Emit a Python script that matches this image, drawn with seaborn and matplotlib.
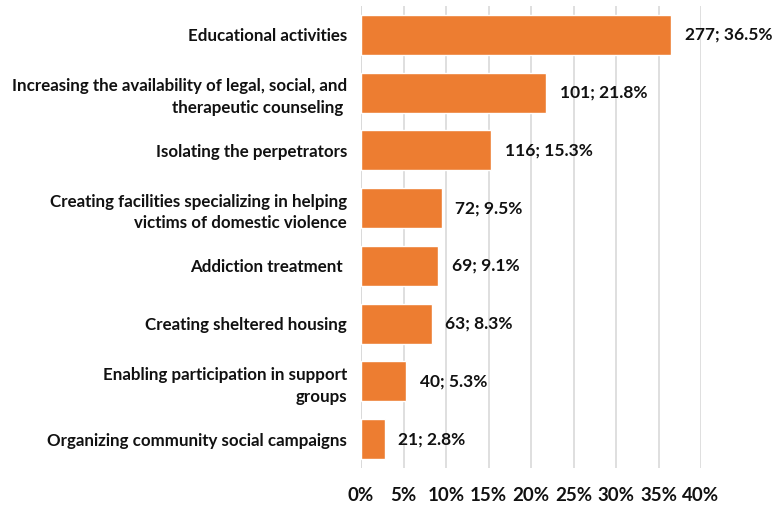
import matplotlib
matplotlib.use("Agg")
import matplotlib.pyplot as plt
import seaborn as sns
import pandas as pd

categories = [
    "Educational activities",
    "Increasing the availability of legal, social, and\ntherapeutic counseling ",
    "Isolating the perpetrators",
    "Creating facilities specializing in helping\nvictims of domestic violence",
    "Addiction treatment ",
    "Creating sheltered housing",
    "Enabling participation in support\ngroups",
    "Organizing community social campaigns",
]
counts = [277, 101, 116, 72, 69, 63, 40, 21]
percents = [36.5, 21.8, 15.3, 9.5, 9.1, 8.3, 5.3, 2.8]
tick_values = [0, 5, 10, 15, 20, 25, 30, 35, 40]

df = pd.DataFrame({"category": categories, "count": counts, "percent": percents})

sns.set_theme(style="white")
plt.rcParams["font.family"] = ["Lato", "DejaVu Sans"]
plt.rcParams["font.weight"] = "bold"

fig = plt.figure(figsize=(7.74, 5.05), dpi=100)
ax = fig.add_axes([361 / 774, 1 - 468 / 505, 340 / 774, 462 / 505])

sns.barplot(data=df, x="percent", y="category", color="#ED7D31", saturation=1,
            width=0.69, ax=ax, zorder=3)

ax.set_xlim(0, 40)
ax.set_xticks(tick_values)
ax.set_xticklabels([f"{v}%" for v in tick_values], fontsize=13.5, fontweight="bold",
                   color="#111111")
ax.tick_params(axis="x", length=0, pad=14)
ax.tick_params(axis="y", length=0, pad=10)
for lbl in ax.get_yticklabels():
    lbl.set_fontsize(12.2)
    lbl.set_fontweight("bold")
    lbl.set_color("#111111")
    lbl.set_horizontalalignment("right")
    lbl.set_multialignment("right")
    lbl.set_linespacing(1.45)
ax.set_xlabel("")
ax.set_ylabel("")
ax.grid(axis="x", color="#D9D9D9", linewidth=1.2, zorder=0)
ax.grid(axis="y", visible=False)
for s in ax.spines.values():
    s.set_visible(False)
ax.axvline(0, color="#D9D9D9", linewidth=1.2, zorder=1)

for i, (c, p) in enumerate(zip(counts, percents)):
    ax.text(p + 1.6, i, f"{c}; {p}%", va="center", ha="left", fontsize=12.5,
            fontweight="bold", color="#111111", clip_on=False)

fig.savefig("out.png", dpi=100)
